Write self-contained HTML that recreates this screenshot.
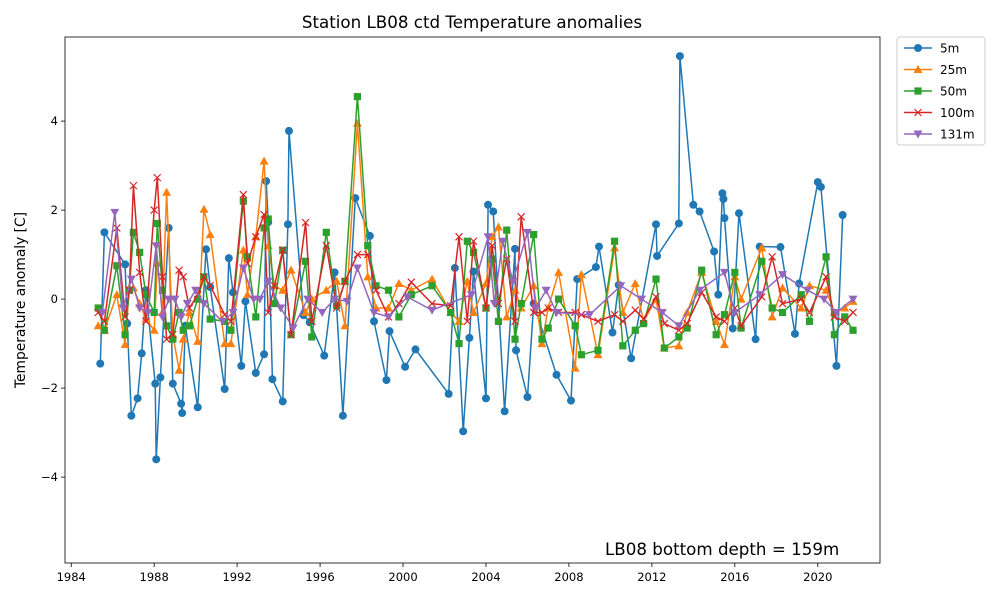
<!DOCTYPE html>
<html><head><meta charset="utf-8"><style>
body{margin:0;background:#fff;font-family:"Liberation Sans","DejaVu Sans",sans-serif}
svg text{font-family:"DejaVu Sans","Liberation Sans",sans-serif}
</style></head><body>
<svg id="c" width="1000" height="600" xmlns="http://www.w3.org/2000/svg">
<rect width="1000" height="600" fill="#fff"/>
<text x="472" y="28" font-size="16.7" text-anchor="middle">Station LB08 ctd Temperature anomalies</text>
<text transform="translate(25,300) rotate(-90)" font-size="13.8" text-anchor="middle">Temperature anomaly [C]</text>
<g id="plot"></g>
<rect x="65" y="37" width="815" height="526" fill="none" stroke="#000" stroke-width="0.8"/>
<text x="605" y="555" font-size="16.7">LB08 bottom depth = 159m</text>
<g id="legend"></g>
</svg>
<script>
const xTicks=[1984,1988,1992,1996,2000,2004,2008,2012,2016,2020];
const yTicks=[-4,-2,0,2,4];
const t5=[1985.4,1985.6,1986.6,1986.7,1986.9,1987.2,1987.4,1987.6,1988.05,1988.1,1988.3,1988.7,1988.9,1989.3,1989.35,1989.5,1990.1,1990.5,1990.7,1991.4,1991.6,1991.8,1992.2,1992.4,1992.9,1993.3,1993.4,1993.5,1993.7,1994.2,1994.45,1994.5,1995.2,1995.5,1996.2,1996.7,1997.1,1997.7,1998.4,1998.6,1999.2,1999.35,2000.1,2000.6,2002.2,2002.5,2002.9,2003.2,2003.4,2004.0,2004.1,2004.35,2004.9,2005.4,2005.45,2006.0,2006.3,2007.4,2008.1,2008.4,2009.3,2009.45,2010.1,2010.4,2011.0,2012.2,2012.25,2013.3,2013.35,2014.0,2014.3,2015.0,2015.2,2015.4,2015.45,2015.5,2015.9,2016.2,2017.0,2017.2,2018.2,2018.9,2019.1,2020.0,2020.15,2020.9,2021.2];
const v5=[-1.45,1.5,0.78,-0.55,-2.62,-2.23,-1.22,0.2,-1.9,-3.6,-1.76,1.6,-1.9,-2.35,-2.56,-0.6,-2.43,1.12,0.27,-2.02,0.92,0.15,-1.5,-0.05,-1.66,-1.24,2.65,1.73,-1.8,-2.3,1.68,3.78,-0.36,-0.52,-1.27,0.6,-2.62,2.27,1.42,-0.5,-1.82,-0.72,-1.52,-1.13,-2.13,0.7,-2.97,-0.87,0.62,-2.23,2.12,1.97,-2.52,1.13,-1.15,-2.2,-0.1,-1.7,-2.28,0.45,0.72,1.18,-0.75,0.32,-1.33,1.68,0.97,1.7,5.46,2.12,1.97,1.07,0.1,2.38,2.25,1.82,-0.66,1.93,-0.9,1.18,1.17,-0.78,0.35,2.63,2.52,-1.5,1.89];
const tDeep=[1985.3,1985.6,1986.2,1986.6,1986.8,1987.0,1987.3,1987.6,1988.0,1988.15,1988.4,1988.6,1988.9,1989.2,1989.4,1989.7,1990.1,1990.4,1990.7,1991.4,1991.7,1992.3,1992.5,1992.9,1993.3,1993.5,1993.8,1994.2,1994.6,1995.3,1995.6,1996.3,1996.8,1997.2,1997.8,1998.3,1998.7,1999.3,1999.8,2000.4,2001.4,2002.3,2002.7,2003.1,2003.4,2004.0,2004.3,2004.6,2005.0,2005.4,2005.7,2006.3,2006.7,2007.0,2007.5,2008.3,2008.6,2009.4,2010.2,2010.6,2011.2,2011.6,2012.2,2012.6,2013.3,2013.7,2014.4,2015.1,2015.5,2016.0,2016.3,2017.3,2017.8,2018.3,2019.2,2019.6,2020.4,2020.8,2021.3,2021.7];
const v25=[-0.6,-0.7,0.1,-1.02,0.25,0.25,-0.1,-0.45,-0.7,0.8,-0.3,2.4,-0.8,-1.6,-0.9,-0.3,-0.95,2.02,1.45,-1.0,-1.0,1.1,0.1,1.4,3.1,1.2,0.3,0.2,0.65,-0.3,0.0,0.2,0.4,-0.6,3.95,0.5,-0.2,-0.2,0.35,0.2,0.45,-0.3,-0.5,0.4,-0.3,0.35,1.4,1.62,-0.4,0.2,-0.2,0.3,-1.0,-0.2,0.6,-1.55,0.55,-1.25,1.15,-0.3,0.35,-0.5,0.0,-1.1,-1.05,-0.3,0.6,-0.5,-1.02,0.5,0.0,1.15,-0.4,0.25,-0.2,0.3,0.2,-0.3,-0.2,-0.05];
const v50=[-0.2,-0.7,0.75,-0.8,0.2,1.5,1.05,0.1,-0.3,1.7,0.2,-0.6,-0.9,-0.3,-0.7,-0.6,0.0,0.5,-0.45,-0.5,-0.7,2.2,0.95,-0.4,1.6,1.8,-0.1,1.1,-0.8,0.85,-0.85,1.5,-0.15,0.4,4.55,1.2,0.3,0.2,-0.4,0.1,0.3,-0.3,-1.0,1.3,1.05,-0.2,0.9,-0.5,1.55,-0.9,-0.1,1.45,-0.9,-0.65,0.0,-0.6,-1.25,-1.15,1.3,-1.05,-0.7,-0.55,0.45,-1.1,-0.85,-0.65,0.65,-0.8,-0.35,0.6,-0.65,0.85,-0.2,-0.3,0.1,-0.5,0.95,-0.8,-0.4,-0.7];
const v100=[-0.3,-0.5,1.6,-0.4,0.2,2.55,0.6,-0.5,2.0,2.73,0.5,-0.9,-0.8,0.65,0.5,-0.2,0.1,0.5,0.3,-0.35,-0.5,2.35,0.8,1.4,1.9,-0.3,0.3,1.1,-0.8,1.72,-0.5,1.2,-0.2,0.4,1.0,1.0,0.2,-0.4,-0.1,0.38,-0.1,-0.15,1.4,-0.5,1.3,-0.2,1.2,-0.1,0.9,-0.5,1.85,-0.3,-0.3,-0.2,-0.3,-0.3,-0.35,-0.5,-0.35,-0.5,-0.25,-0.45,0.05,-0.55,-0.7,-0.55,0.15,-0.4,-0.5,-0.2,-0.6,0.05,0.95,-0.1,0.0,-0.3,0.5,-0.4,-0.5,-0.3];
const t131=[1985.5,1986.1,1986.5,1986.9,1987.3,1987.7,1988.1,1988.4,1988.7,1989.0,1989.3,1989.6,1990.0,1990.4,1991.3,1991.8,1992.3,1992.8,1993.1,1993.5,1994.1,1994.7,1995.4,1996.1,1996.7,1997.3,1997.8,1998.6,1999.3,2000.2,2001.4,2003.3,2004.1,2004.4,2004.8,2005.3,2006.0,2006.4,2006.9,2007.4,2009.0,2010.5,2011.5,2012.5,2013.3,2014.3,2015.5,2016.0,2017.2,2018.3,2019.5,2020.3,2020.9,2021.7];
const v131=[-0.3,1.95,-0.2,0.45,-0.2,-0.3,1.2,-0.4,0.0,0.0,-0.4,-0.1,0.2,-0.1,-0.5,-0.3,0.7,0.0,0.0,0.4,-0.2,-0.65,0.0,-0.3,0.0,-0.05,0.7,-0.3,-0.4,0.05,-0.25,0.1,1.4,-0.1,1.3,0.4,1.5,-0.2,0.2,-0.3,-0.35,0.3,0.0,-0.3,-0.6,0.2,0.6,-0.3,0.1,0.55,0.2,0.0,-0.3,0.0];
const seriesNames=["5m","25m","50m","100m","131m"];

const NS="http://www.w3.org/2000/svg";
const X0=65,X1=880,Y0=37,Y1=563,XMIN=1983.7,XMAX=2023.0,YMIN=-5.93,YMAX=5.89;
const sx=t=>X0+(t-XMIN)/(XMAX-XMIN)*(X1-X0);
const sy=v=>Y1-(v-YMIN)/(YMAX-YMIN)*(Y1-Y0);
const svg=document.getElementById('c'),plot=document.getElementById('plot'),leg=document.getElementById('legend');
function mk(tag,at,parent){const e=document.createElementNS(NS,tag);for(const k in at)e.setAttribute(k,at[k]);(parent||svg).appendChild(e);return e;}
xTicks.forEach(t=>{const x=sx(t);
 const l=mk('line',{x1:x,x2:x,y1:Y1,y2:Y1+4,stroke:'#000','stroke-width':0.8});
 
 
 const tx=mk('text',{x:x,y:Y1+18,'font-size':11.5,'text-anchor':'middle'});tx.textContent=t;
 
 });
yTicks.forEach(v=>{const y=sy(v);
 const l=mk('line',{x1:X0-4,x2:X0,y1:y,y2:y,stroke:'#000','stroke-width':0.8});
 
 
 const tx=mk('text',{x:X0-7,y:y+4,'font-size':11.5,'text-anchor':'end'});tx.textContent=(v<0?'\u2212'+(-v):v);
 
 });
const colors=['#1f77b4','#ff7f0e','#2ca02c','#d62728','#9467bd'];
const markers=['o','^','s','x','v'];
function marker(g,m,x,y,c){
 let e;
 if(m==='o')e=mk('circle',{cx:x,cy:y,r:4,fill:c},g);
 else if(m==='s')e=mk('rect',{x:x-3.6,y:y-3.6,width:7.2,height:7.2,fill:c},g);
 else if(m==='^')e=mk('polygon',{points:`${x},${y-4.5} ${x-4.5},${y+3.5} ${x+4.5},${y+3.5}`,fill:c},g);
 else if(m==='v')e=mk('polygon',{points:`${x},${y+4.5} ${x-4.5},${y-3.5} ${x+4.5},${y-3.5}`,fill:c},g);
 else e=mk('path',{d:`M${x-3.5},${y-3.5}L${x+3.5},${y+3.5}M${x-3.5},${y+3.5}L${x+3.5},${y-3.5}`,stroke:c,'stroke-width':1.2,fill:'none'},g);
 return e;}
const sets=[[t5,v5],[tDeep,v25],[tDeep,v50],[tDeep,v100],[t131,v131]];
sets.forEach((s,i)=>{const [T,V]=s;const n=Math.min(T.length,V.length);
 const g=mk('g',{},plot);
 
 
 let d='';for(let k=0;k<n;k++)d+=(k?'L':'M')+sx(T[k]).toFixed(1)+','+sy(V[k]).toFixed(1);
 const p=mk('path',{d:d,fill:'none',stroke:colors[i],'stroke-width':1.5},g);
 
 
 for(let k=0;k<n;k++){const e=marker(g,markers[i],sx(T[k]),sy(V[k]),colors[i]);
  
  }
});
const box=mk('rect',{x:897,y:37,width:88,height:108,rx:3,fill:'#fff',stroke:'#ccc','stroke-width':1},leg);


seriesNames.forEach((nm,i)=>{const y=48+i*21.5;
 const g=mk('g',{},leg);
 
 
 mk('line',{x1:904,x2:932,y1:y,y2:y,stroke:colors[i],'stroke-width':1.5},g);
 marker(g,markers[i],918,y,colors[i]);
 const tx=mk('text',{x:940,y:y+4.5,'font-size':12},g);tx.textContent=nm;});
</script>
</body></html>
